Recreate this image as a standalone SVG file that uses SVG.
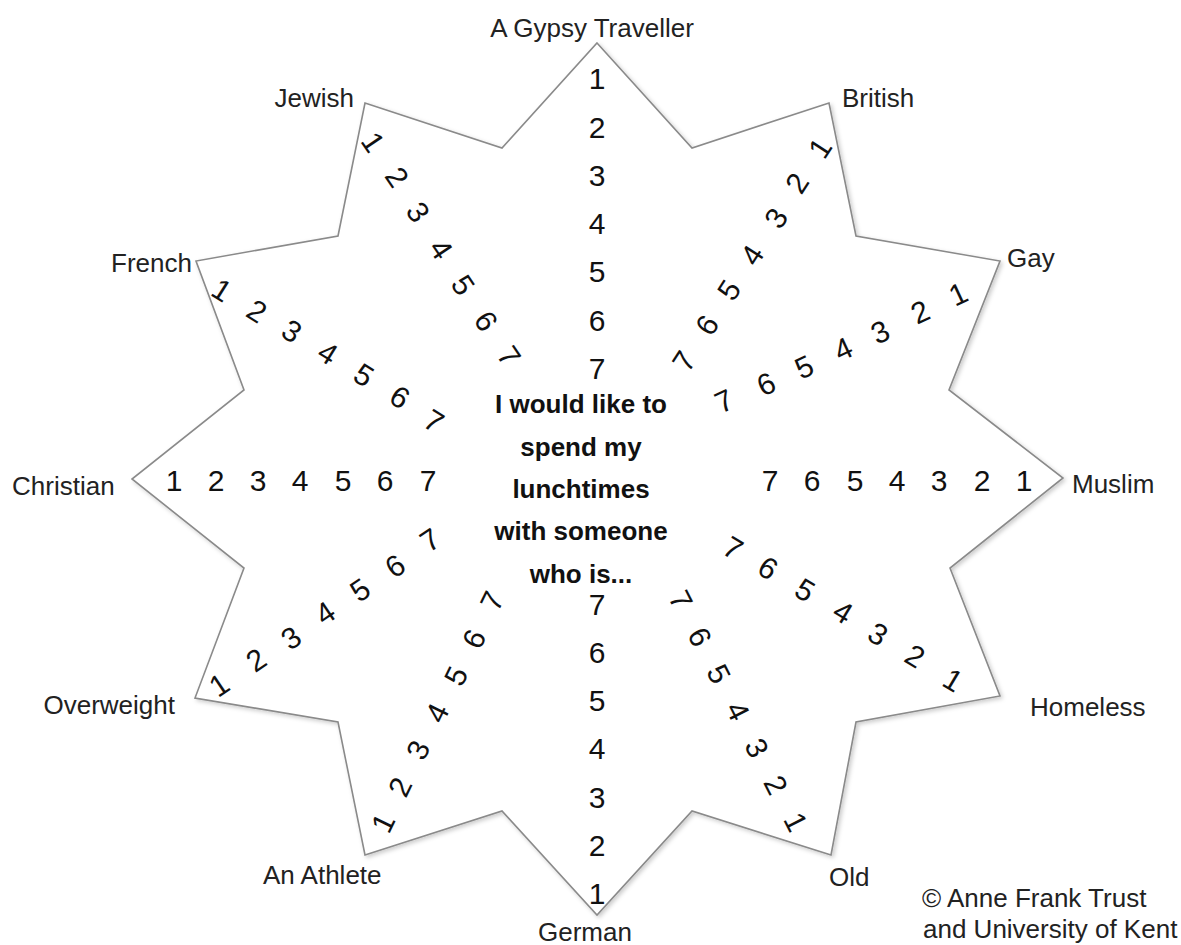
<svg xmlns="http://www.w3.org/2000/svg" width="1181" height="945" viewBox="0 0 1181 945">
<defs>
<filter id="sh" x="-5%" y="-5%" width="110%" height="110%">
<feDropShadow dx="2" dy="2" stdDeviation="2" flood-color="#000" flood-opacity="0.2"/>
</filter>
</defs>
<style>
.lbl{font-family:"Liberation Sans",Arial,sans-serif;font-size:26px;fill:#222}
.n{font-family:"Liberation Sans",Arial,sans-serif;font-size:30px;fill:#111;text-anchor:middle;dominant-baseline:central}
.c{font-family:"Liberation Sans",Arial,sans-serif;font-size:26px;font-weight:bold;fill:#111;text-anchor:middle}
.star{fill:#fff;stroke:#8a8a8a;stroke-width:1.6;stroke-linejoin:miter}
</style>
<rect width="1181" height="945" fill="#fff"/>
<g id="star">
<polygon class="star" filter="url(#sh)" points="597,43 692,148 829,103 856,236 1000,261 949,390 1063,478 950,568 1000,696 856,722 831,855 692,811 597,915 502,811 365,855 338,722 195,698 244,568 132,479 244,390 196,261 338,236 365,103 502,148"/>
</g>
<g id="centre-text">
<text class="c" x="581" y="413">I would like to</text>
<text class="c" x="581" y="456">spend my</text>
<text class="c" x="581" y="498">lunchtimes</text>
<text class="c" x="581" y="540">with someone</text>
<text class="c" x="581" y="583">who is...</text>
</g>
<g id="gypsy">
<text class="lbl" x="592" y="37" text-anchor="middle">A Gypsy Traveller</text>
<text class="n" x="597" y="78">1</text><text class="n" x="597" y="127">2</text><text class="n" x="597" y="175">3</text><text class="n" x="597" y="223">4</text><text class="n" x="597" y="271">5</text><text class="n" x="597" y="320">6</text><text class="n" x="597" y="368">7</text>
</g>
<g id="german">
<text class="lbl" x="585" y="941" text-anchor="middle">German</text>
<text class="n" x="597" y="604">7</text><text class="n" x="597" y="652">6</text><text class="n" x="597" y="700">5</text><text class="n" x="597" y="748">4</text><text class="n" x="597" y="797">3</text><text class="n" x="597" y="845">2</text><text class="n" x="597" y="893">1</text>
</g>
<g id="christian">
<text class="lbl" x="12" y="495">Christian</text>
<text class="n" x="174" y="480">1</text><text class="n" x="216" y="480">2</text><text class="n" x="258" y="480">3</text><text class="n" x="300" y="480">4</text><text class="n" x="343" y="480">5</text><text class="n" x="385" y="480">6</text><text class="n" x="428" y="480">7</text>
</g>
<g id="muslim">
<text class="lbl" x="1072" y="493">Muslim</text>
<text class="n" x="770" y="480">7</text><text class="n" x="812" y="480">6</text><text class="n" x="855" y="480">5</text><text class="n" x="897" y="480">4</text><text class="n" x="939" y="480">3</text><text class="n" x="982" y="480">2</text><text class="n" x="1024" y="480">1</text>
</g>
<g id="jewish">
<text class="lbl" x="354" y="107" text-anchor="end">Jewish</text>
<text class="n" transform="rotate(56 373 142)" x="373" y="142">1</text>
<text class="n" transform="rotate(56 397 177)" x="397" y="177">2</text>
<text class="n" transform="rotate(56 418 212)" x="418" y="212">3</text>
<text class="n" transform="rotate(56 441 249)" x="441" y="249">4</text>
<text class="n" transform="rotate(56 463 285)" x="463" y="285">5</text>
<text class="n" transform="rotate(56 486 321)" x="486" y="321">6</text>
<text class="n" transform="rotate(56 509 356)" x="509" y="356">7</text>
</g>
<g id="british">
<text class="lbl" x="842" y="107">British</text>
<text class="n" transform="rotate(-57 820 148)" x="820" y="148">1</text>
<text class="n" transform="rotate(-57 797 183)" x="797" y="183">2</text>
<text class="n" transform="rotate(-57 776 218)" x="776" y="218">3</text>
<text class="n" transform="rotate(-57 752 255)" x="752" y="255">4</text>
<text class="n" transform="rotate(-57 729 290)" x="729" y="290">5</text>
<text class="n" transform="rotate(-57 707 325)" x="707" y="325">6</text>
<text class="n" transform="rotate(-57 684 361)" x="684" y="361">7</text>
</g>
<g id="french">
<text class="lbl" x="192" y="272" text-anchor="end">French</text>
<text class="n" transform="rotate(32 222 290)" x="222" y="290">1</text>
<text class="n" transform="rotate(32 257 311)" x="257" y="311">2</text>
<text class="n" transform="rotate(32 292 331)" x="292" y="331">3</text>
<text class="n" transform="rotate(32 328 353)" x="328" y="353">4</text>
<text class="n" transform="rotate(32 364 375)" x="364" y="375">5</text>
<text class="n" transform="rotate(32 400 397)" x="400" y="397">6</text>
<text class="n" transform="rotate(32 434 421)" x="434" y="421">7</text>
</g>
<g id="gay">
<text class="lbl" x="1007" y="267">Gay</text>
<text class="n" transform="rotate(-25 958 294)" x="958" y="294">1</text>
<text class="n" transform="rotate(-25 920 312)" x="920" y="312">2</text>
<text class="n" transform="rotate(-25 880 332)" x="880" y="332">3</text>
<text class="n" transform="rotate(-25 843 349)" x="843" y="349">4</text>
<text class="n" transform="rotate(-25 804 367)" x="804" y="367">5</text>
<text class="n" transform="rotate(-25 766 384)" x="766" y="384">6</text>
<text class="n" transform="rotate(-25 724 401)" x="724" y="401">7</text>
</g>
<g id="overweight">
<text class="lbl" x="175" y="714" text-anchor="end">Overweight</text>
<text class="n" transform="rotate(-34 219 685)" x="219" y="685">1</text>
<text class="n" transform="rotate(-34 256 660)" x="256" y="660">2</text>
<text class="n" transform="rotate(-34 291 638)" x="291" y="638">3</text>
<text class="n" transform="rotate(-34 325 613)" x="325" y="613">4</text>
<text class="n" transform="rotate(-34 360 590)" x="360" y="590">5</text>
<text class="n" transform="rotate(-34 395 566)" x="395" y="566">6</text>
<text class="n" transform="rotate(-34 430 540)" x="430" y="540">7</text>
</g>
<g id="homeless">
<text class="lbl" x="1030" y="716">Homeless</text>
<text class="n" transform="rotate(31 953 680)" x="953" y="680">1</text>
<text class="n" transform="rotate(31 915 656)" x="915" y="656">2</text>
<text class="n" transform="rotate(31 878 634)" x="878" y="634">3</text>
<text class="n" transform="rotate(31 843 612)" x="843" y="612">4</text>
<text class="n" transform="rotate(31 805 590)" x="805" y="590">5</text>
<text class="n" transform="rotate(31 768 568)" x="768" y="568">6</text>
<text class="n" transform="rotate(31 733 548)" x="733" y="548">7</text>
</g>
<g id="athlete">
<text class="lbl" x="263" y="884">An Athlete</text>
<text class="n" transform="rotate(-64 383 823)" x="383" y="823">1</text>
<text class="n" transform="rotate(-64 400 787)" x="400" y="787">2</text>
<text class="n" transform="rotate(-64 418 750)" x="418" y="750">3</text>
<text class="n" transform="rotate(-64 437 713)" x="437" y="713">4</text>
<text class="n" transform="rotate(-64 456 676)" x="456" y="676">5</text>
<text class="n" transform="rotate(-64 474 639)" x="474" y="639">6</text>
<text class="n" transform="rotate(-64 492 601)" x="492" y="601">7</text>
</g>
<g id="old">
<text class="lbl" x="829" y="886">Old</text>
<text class="n" transform="rotate(63 796 822)" x="796" y="822">1</text>
<text class="n" transform="rotate(63 776 785)" x="776" y="785">2</text>
<text class="n" transform="rotate(63 757 748)" x="757" y="748">3</text>
<text class="n" transform="rotate(63 738 711)" x="738" y="711">4</text>
<text class="n" transform="rotate(63 719 674)" x="719" y="674">5</text>
<text class="n" transform="rotate(63 700 637)" x="700" y="637">6</text>
<text class="n" transform="rotate(63 681 600)" x="681" y="600">7</text>
</g>
<g id="credit">
<text class="lbl" x="922" y="907">© Anne Frank Trust</text>
<text class="lbl" x="923" y="938">and University of Kent</text>
</g>
</svg>
